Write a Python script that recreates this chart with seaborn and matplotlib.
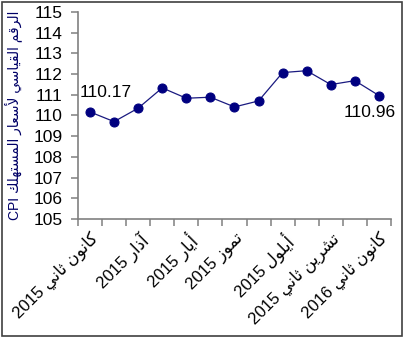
import numpy as np
import pandas as pd
import matplotlib
matplotlib.use("Agg")
import matplotlib.pyplot as plt
from matplotlib.patches import Rectangle
from matplotlib.ticker import FixedLocator
import seaborn as sns

# Monthly consumer price index, January 2015 - January 2016
months = ["كانون ثاني 2015", "شباط 2015", "آذار 2015", "نيسان 2015", "أيار 2015",
          "حزيران 2015", "تموز 2015", "آب 2015", "أيلول 2015", "تشرين أول 2015",
          "تشرين ثاني 2015", "كانون أول 2015", "كانون ثاني 2016"]
cpi = [110.17, 109.70, 110.35, 111.33, 110.83, 110.88, 110.41, 110.70,
       112.07, 112.16, 111.49, 111.68, 110.96]
yticks = list(range(105, 116))
ylabel = "الرقم القياسي لأسعار المستهلك CPI"

# --- minimal Arabic shaping (presentation forms) + visual reordering ---
# forms: (isolated, final, initial, medial); right-joining letters have no initial/medial
FORMS = {
    "ا": ("\uFE8D", "\uFE8E", None, None),
    "آ": ("\uFE81", "\uFE82", None, None),
    "أ": ("\uFE83", "\uFE84", None, None),
    "ب": ("\uFE8F", "\uFE90", "\uFE91", "\uFE92"),
    "ت": ("\uFE95", "\uFE96", "\uFE97", "\uFE98"),
    "ث": ("\uFE99", "\uFE9A", "\uFE9B", "\uFE9C"),
    "ح": ("\uFEA1", "\uFEA2", "\uFEA3", "\uFEA4"),
    "د": ("\uFEA9", "\uFEAA", None, None),
    "ذ": ("\uFEAB", "\uFEAC", None, None),
    "ر": ("\uFEAD", "\uFEAE", None, None),
    "ز": ("\uFEAF", "\uFEB0", None, None),
    "س": ("\uFEB1", "\uFEB2", "\uFEB3", "\uFEB4"),
    "ش": ("\uFEB5", "\uFEB6", "\uFEB7", "\uFEB8"),
    "ط": ("\uFEC1", "\uFEC2", "\uFEC3", "\uFEC4"),
    "ع": ("\uFEC9", "\uFECA", "\uFECB", "\uFECC"),
    "ق": ("\uFED5", "\uFED6", "\uFED7", "\uFED8"),
    "ك": ("\uFED9", "\uFEDA", "\uFEDB", "\uFEDC"),
    "ل": ("\uFEDD", "\uFEDE", "\uFEDF", "\uFEE0"),
    "م": ("\uFEE1", "\uFEE2", "\uFEE3", "\uFEE4"),
    "ن": ("\uFEE5", "\uFEE6", "\uFEE7", "\uFEE8"),
    "ه": ("\uFEE9", "\uFEEA", "\uFEEB", "\uFEEC"),
    "و": ("\uFEED", "\uFEEE", None, None),
    "ي": ("\uFEF1", "\uFEF2", "\uFEF3", "\uFEF4"),
}
LAM_ALEF = {"آ": ("\uFEF5", "\uFEF6", None, None),
            "أ": ("\uFEF7", "\uFEF8", None, None),
            "ا": ("\uFEFB", "\uFEFC", None, None)}


def shape_word(word):
    tokens = []
    i = 0
    while i < len(word):
        c = word[i]
        if c == "ل" and i + 1 < len(word) and word[i + 1] in LAM_ALEF:
            tokens.append(LAM_ALEF[word[i + 1]])
            i += 2
            continue
        tokens.append(FORMS.get(c, (c, c, None, None)))
        i += 1
    out = []
    for k, f in enumerate(tokens):
        prev = k > 0 and tokens[k - 1][2] is not None
        nxt = f[2] is not None and k + 1 < len(tokens)
        if prev and nxt:
            out.append(f[3])
        elif prev:
            out.append(f[1])
        elif nxt:
            out.append(f[2])
        else:
            out.append(f[0])
    return "".join(reversed(out))


def rtl(text):
    words = text.split(" ")
    vis = []
    for w in reversed(words):
        if any(ch in FORMS for ch in w):
            vis.append(shape_word(w))
        else:
            vis.append(w)
    return " ".join(vis)


sns.set_theme(style="white")
plt.rcParams["font.family"] = ["Liberation Sans", "DejaVu Sans"]

df = pd.DataFrame({"pos": np.arange(len(months)), "cpi": cpi})

fig = plt.figure(figsize=(4.06, 3.40), dpi=100)
ax = fig.add_axes([0.192, 0.356, 0.771, 0.609])

sns.lineplot(data=df, x="pos", y="cpi", ax=ax, color="#1a1a80", linewidth=0.9,
             marker="o", markersize=6.5, markerfacecolor="#000080",
             markeredgecolor="#000080", sort=False)

ax.set_xlim(-0.5, len(months) - 0.5)
ax.set_ylim(105, 115)
ax.set_yticks(yticks)
ax.set_yticklabels([str(t) for t in yticks], fontsize=12.5, color="black")

# category boundaries carry the tick marks, labels sit on every other month
ax.xaxis.set_minor_locator(FixedLocator(np.arange(-0.5, len(months), 1.0)))
label_pos = np.arange(0, len(months), 2)
ax.set_xticks(label_pos)
ax.set_xticklabels([rtl(months[i]) for i in label_pos], rotation=45, ha="right",
                   rotation_mode="anchor", fontsize=12, color="black")
ax.tick_params(axis="x", which="major", length=0, pad=8)
ax.tick_params(axis="x", which="minor", length=5, width=1.1, color="#808080",
               direction="out", bottom=True)
ax.tick_params(axis="y", which="major", length=5, width=1.1, color="#808080",
               direction="out", left=True, pad=6)

ax.set_xlabel("")
ax.set_ylabel(rtl(ylabel), fontsize=10, color="#000066")
ax.yaxis.set_label_coords(-0.179, 0.5)

for s in ["top", "right"]:
    ax.spines[s].set_visible(False)
for s in ["left", "bottom"]:
    ax.spines[s].set_color("#808080")
    ax.spines[s].set_linewidth(1.2)

ax.annotate(f"{cpi[0]:.2f}", (0, cpi[0]), xytext=(11, 14), textcoords="offset points",
            ha="center", va="center", fontsize=12.5, color="black")
ax.annotate(f"{cpi[-1]:.2f}", (len(cpi) - 1, cpi[-1]), xytext=(-7, -12),
            textcoords="offset points", ha="center", va="center", fontsize=12.5,
            color="black")

fig.patches.append(Rectangle((0.005, 0.011), 0.985, 0.983, transform=fig.transFigure,
                             fill=False, edgecolor="#404040", linewidth=1.2))

fig.savefig("out.png", dpi=100)
